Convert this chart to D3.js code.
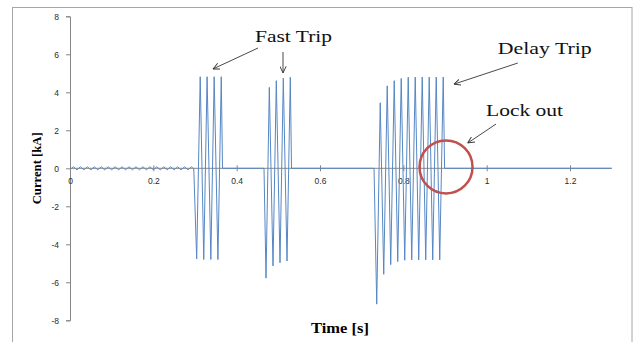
<!DOCTYPE html>
<html>
<head>
<meta charset="utf-8">
<script src="https://cdn.jsdelivr.net/npm/d3@7"></script>
<style>
  html, body { margin: 0; padding: 0; background: #fff; }
  svg { display: block; }
</style>
</head>
<body>
<svg id="chart" width="636" height="342"></svg>
<script>
// Recloser current record: [time (s), current (kA)] at the waveform extrema.
const preFault = [
  [0, 0], [0.004, 0],
  [0.0083, 0.08], [0.0167, -0.08], [0.0250, 0.08], [0.0333, -0.08], [0.0417, 0.08],
  [0.0500, -0.08], [0.0583, 0.08], [0.0667, -0.08], [0.0750, 0.08], [0.0833, -0.08],
  [0.0917, 0.08], [0.1000, -0.08], [0.1083, 0.08], [0.1167, -0.08], [0.1250, 0.08],
  [0.1333, -0.08], [0.1417, 0.08], [0.1500, -0.08], [0.1583, 0.08], [0.1667, -0.08],
  [0.1750, 0.08], [0.1833, -0.08], [0.1917, 0.08], [0.2000, -0.08], [0.2083, 0.08],
  [0.2167, -0.08], [0.2250, 0.08], [0.2333, -0.08], [0.2417, 0.08], [0.2500, -0.08],
  [0.2583, 0.08], [0.2667, -0.08], [0.2750, 0.08], [0.2833, -0.08], [0.2917, 0.08],
  [0.2950, 0]
];

const fastTrip1 = [
  [0.2970, 0],
  [0.3040, -4.77], [0.3125, 4.82], [0.3210, -4.80], [0.3290, 4.82],
  [0.3380, -4.80], [0.3460, 4.82], [0.3550, -4.80], [0.3630, 4.82],
  [0.3660, 0]
];

const fastTrip2 = [
  [0.4656, 0],
  [0.4704, -5.78], [0.4783, 4.26], [0.4872, -5.14], [0.4951, 4.61],
  [0.5040, -4.97], [0.5119, 4.74], [0.5208, -4.88], [0.5287, 4.79],
  [0.5316, 0]
];

const delayTrip = [
  [0.7296, 0],
  [0.7361, -7.15], [0.7445, 3.45], [0.7529, -5.58], [0.7613, 4.34],
  [0.7697, -5.07], [0.7781, 4.61], [0.7865, -4.91], [0.7949, 4.73],
  [0.8033, -4.84], [0.8117, 4.79], [0.8201, -4.82], [0.8285, 4.80],
  [0.8369, -4.82], [0.8453, 4.80], [0.8537, -4.82], [0.8621, 4.80],
  [0.8705, -4.82], [0.8789, 4.80], [0.8873, -4.82], [0.8957, 4.80],
  [0.8990, 0]
];

const lockedOut = [[1.3, 0]];

const xTicks = [0, 0.2, 0.4, 0.6, 0.8, 1, 1.2];
const yTicks = [-8, -6, -4, -2, 0, 2, 4, 6, 8];

// Callouts, placed in chart units (s, kA)
const callouts = [
  { text: "Fast Trip",  t: 0.4440, i: 6.63, width: 77 },
  { text: "Delay Trip", t: 1.0265, i: 6.00, width: 94 },
  { text: "Lock out",   t: 0.9984, i: 2.75, width: 77 }
];
const arrows = [
  { t0: 0.4512, i0: 6.33, t1: 0.3432, i1: 5.23 },
  { t0: 0.5112, i0: 6.12, t1: 0.5112, i1: 5.02 },
  { t0: 1.0745, i0: 5.54, t1: 0.9216, i1: 4.43 },
  { t0: 1.0224, i0: 2.33, t1: 0.9545, i1: 1.33 }
];
const lockRing = { t: 0.9024, i: 0.07, radiusT: 0.0636 };

const svg = d3.select("#chart");

const x = d3.scaleLinear().domain([0, 1.3]).range([70, 611.7]);
const y = d3.scaleLinear().domain([-8, 8]).range([320.3, 16.3]);

// Outer chart frame
svg.append("rect")
  .attr("x", 12.5).attr("y", 7.5)
  .attr("width", 619.5).attr("height", 345)
  .attr("fill", "none").attr("stroke", "#a6a6a6").attr("stroke-width", 1);

const axisColor = "#868686";
const tickFont = "'Liberation Sans', Arial, sans-serif";

// Y axis
const yAxis = svg.append("g")
  .attr("transform", `translate(${x(0)},0)`)
  .call(d3.axisLeft(y).tickValues(yTicks).tickSize(4).tickPadding(7)
    .tickFormat(d => String(d)));
yAxis.select(".domain").attr("stroke", axisColor);
yAxis.selectAll(".tick line").attr("stroke", axisColor);
yAxis.selectAll(".tick text")
  .attr("fill", "#2a2a2a").style("font-family", tickFont).style("font-size", "8.5px");

// X axis crossing at zero current, ticks straddling the line
const xAxis = svg.append("g")
  .attr("transform", `translate(0,${y(0) - 3})`)
  .call(d3.axisBottom(x).tickValues(xTicks).tickSize(6).tickPadding(6.5)
    .tickFormat(d => String(d)));
xAxis.select(".domain").remove();
xAxis.selectAll(".tick line").attr("stroke", axisColor);
xAxis.selectAll(".tick text")
  .attr("fill", "#2a2a2a").style("font-family", tickFont).style("font-size", "8.5px");
svg.append("line")
  .attr("x1", x(0)).attr("x2", x(1.3))
  .attr("y1", y(0)).attr("y2", y(0))
  .attr("stroke", axisColor);

// Current waveform
const record = [].concat(preFault, fastTrip1, fastTrip2, delayTrip, lockedOut);
const line = d3.line().x(d => x(d[0])).y(d => y(d[1]));
svg.append("path")
  .datum(record)
  .attr("d", line)
  .attr("fill", "none")
  .attr("stroke", "#5687c4")
  .attr("stroke-width", 1)
  .attr("stroke-linejoin", "round");

// Axis titles
const titleFont = "'Liberation Serif', 'Times New Roman', serif";
svg.append("text")
  .attr("transform", `translate(41,${y(0)}) rotate(-90)`)
  .attr("text-anchor", "middle")
  .style("font-family", titleFont).style("font-weight", "bold").style("font-size", "13.5px")
  .attr("textLength", 72).attr("lengthAdjust", "spacingAndGlyphs")
  .attr("fill", "#000")
  .text("Current [kA]");
svg.append("text")
  .attr("x", 340).attr("y", 333)
  .attr("text-anchor", "middle")
  .style("font-family", titleFont).style("font-weight", "bold").style("font-size", "15px")
  .attr("textLength", 58).attr("lengthAdjust", "spacingAndGlyphs")
  .attr("fill", "#000")
  .text("Time [s]");

// Arrowhead
svg.append("defs").append("marker")
  .attr("id", "head")
  .attr("viewBox", "0 0 10 10")
  .attr("refX", 9.5).attr("refY", 5)
  .attr("markerWidth", 7).attr("markerHeight", 7)
  .attr("markerUnits", "userSpaceOnUse")
  .attr("orient", "auto")
  .append("path")
  .attr("d", "M0,0.5 L9.5,5 L0,9.5")
  .attr("fill", "none").attr("stroke", "#333").attr("stroke-width", 1.3);

svg.append("g").selectAll("line")
  .data(arrows).join("line")
  .attr("x1", d => x(d.t0)).attr("y1", d => y(d.i0))
  .attr("x2", d => x(d.t1)).attr("y2", d => y(d.i1))
  .attr("stroke", "#333").attr("stroke-width", 0.9)
  .attr("marker-end", "url(#head)");

svg.append("g").selectAll("text")
  .data(callouts).join("text")
  .attr("x", d => x(d.t)).attr("y", d => y(d.i))
  .attr("textLength", d => d.width).attr("lengthAdjust", "spacingAndGlyphs")
  .style("font-family", titleFont).style("font-size", "17px")
  .attr("fill", "#111")
  .text(d => d.text);

// Lock-out ring
svg.append("circle")
  .attr("cx", x(lockRing.t)).attr("cy", y(lockRing.i))
  .attr("r", x(lockRing.t + lockRing.radiusT) - x(lockRing.t))
  .attr("fill", "none").attr("stroke", "#c0504d").attr("stroke-width", 2.5);
</script>
</body>
</html>
